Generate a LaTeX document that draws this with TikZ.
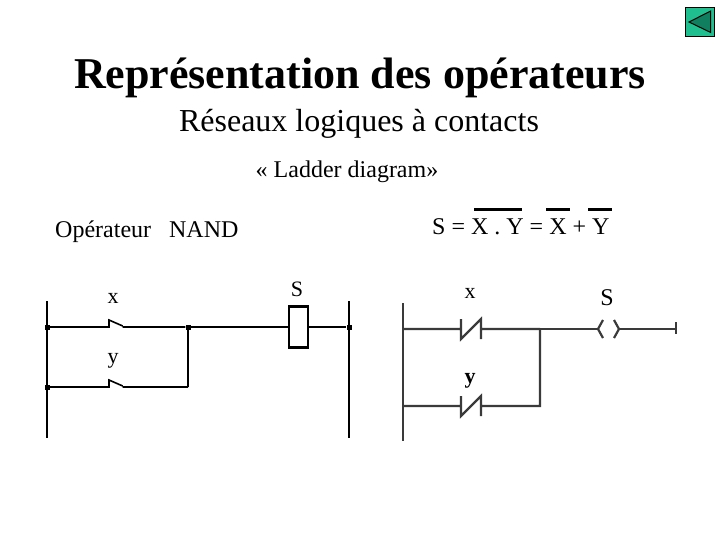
\documentclass[tikz,border=0pt]{standalone}
\usepackage{fontspec}
\setmainfont{Liberation Serif}
\definecolor{gwire}{HTML}{3A3A3A}
\definecolor{btn}{HTML}{1FBF8F}
\definecolor{btnd}{HTML}{0F7F5F}
\tikzset{
  txt/.style={inner sep=0pt,anchor=base,text=black},
  leftw/.style={draw=black,line width=1.6pt},
  leftb/.style={draw=black,line width=2.4pt},
  rightw/.style={draw=gwire,line width=2.2pt},
  dotj/.style={fill=black,inner sep=0pt,minimum size=5pt,shape=rectangle},
  ovb/.style={draw=black,line width=3pt}
}
\begin{document}
\begin{tikzpicture}[x=1pt,y=-1pt]
\useasboundingbox (0,0) rectangle (720,540);
% button
\node[draw=black,line width=1.2pt,fill=btn,minimum size=29pt,inner sep=0pt] (back) at (700.3,22) {};
\draw[draw=black,line width=1pt,fill=btnd] (710.7,11) -- (689,22) -- (710.7,32.5) -- cycle;
% titles
\node[txt,font=\fontsize{44}{48}\selectfont\bfseries] (title) at (360,89) {Représentation des opérateurs};
\node[txt,font=\fontsize{32}{36}\selectfont] (sub) at (359,132) {Réseaux logiques à contacts};
\node[txt,font=\fontsize{24}{28}\selectfont] (ladder) at (347,178) {« Ladder diagram»};
\node[txt,anchor=base west,font=\fontsize{24}{28}\selectfont] (op) at (55,237) {Opérateur\hspace{12pt} NAND};
% equation
\node[txt,anchor=base west,font=\fontsize{24}{28}\selectfont] (eq) at (432,234) {S = X . Y = X + Y};
\coordinate (b1a) at (474,210); \coordinate (b1b) at (522,210);
\coordinate (b2a) at (546,210); \coordinate (b2b) at (570,210);
\coordinate (b3a) at (588,210); \coordinate (b3b) at (612,210);
\draw[ovb] (b1a) -- (b1b); \draw[ovb] (b2a) -- (b2b); \draw[ovb] (b3a) -- (b3b);
% left diagram
\coordinate (lrt) at (47,301); \coordinate (lrb) at (47,438);
\coordinate (rrt) at (349,301); \coordinate (rrb) at (349,438);
\node[dotj] (j1) at (47.5,327) {};
\node[dotj] (j2) at (47.5,387) {};
\node[dotj] (j3) at (188,327) {};
\node[dotj] (j4) at (349,327) {};
\coordinate (c2) at (188,387);
\node[draw=black,line width=2.4pt,fill=white,minimum width=19pt,minimum height=41pt,inner sep=0pt] (coil) at (298.4,327) {};
\draw[leftw] (lrt) -- (lrb);
\draw[leftb] (rrt) -- (rrb);
\draw[leftw] (j1) -- (109,327) -- (109,320) -- (122.7,326) (122.7,327) -- (j3);
\draw[leftw] (j2) -- (109,387) -- (109,380) -- (122.7,386) (122.7,387) -- (c2);
\draw[leftb] (j3) -- (c2);
\draw[leftw] (j3) -- (coil.west);
\draw[leftw] (coil.east) -- (j4);
\node[txt,font=\fontsize{22}{26}\selectfont] (lx) at (113,303) {x};
\node[txt,font=\fontsize{22}{26}\selectfont] (ly) at (113,363) {y};
\node[txt,font=\fontsize{22}{26}\selectfont] (ls) at (297,296) {S};
% right diagram
\coordinate (R1) at (402.7,303); \coordinate (R2) at (402.7,441);
\coordinate (ra) at (402.7,329); \coordinate (rb) at (402.7,406);
\coordinate (rj) at (540,329); \coordinate (rk) at (540,406);
\coordinate (ce) at (676,329);
\draw[rightw] (R1) -- (R2);
\draw[rightw] (ra) -- (461,329) (461,319) -- (461,339) -- (481,319) -- (481,339) (481,329) -- (rj);
\draw[rightw] (rb) -- (461,406) (461,396) -- (461,416) -- (481,396) -- (481,416) (481,406) -- (rk) -- (rj);
\draw[rightw] (rj) -- (598,329);
\draw[rightw] (603,320) -- (598,329) -- (603,338);
\draw[rightw] (614,320) -- (619,329) -- (614,338);
\draw[rightw] (619,329) -- (ce);
\draw[rightw] (676,322) -- (676,334);
\node[txt,font=\fontsize{22}{26}\selectfont] (rx) at (470,298) {x};
\node[txt,font=\fontsize{22}{26}\selectfont\bfseries] (ry) at (470,383) {y};
\node[txt,font=\fontsize{24}{28}\selectfont] (rs) at (607,305) {S};
\end{tikzpicture}
\end{document}
